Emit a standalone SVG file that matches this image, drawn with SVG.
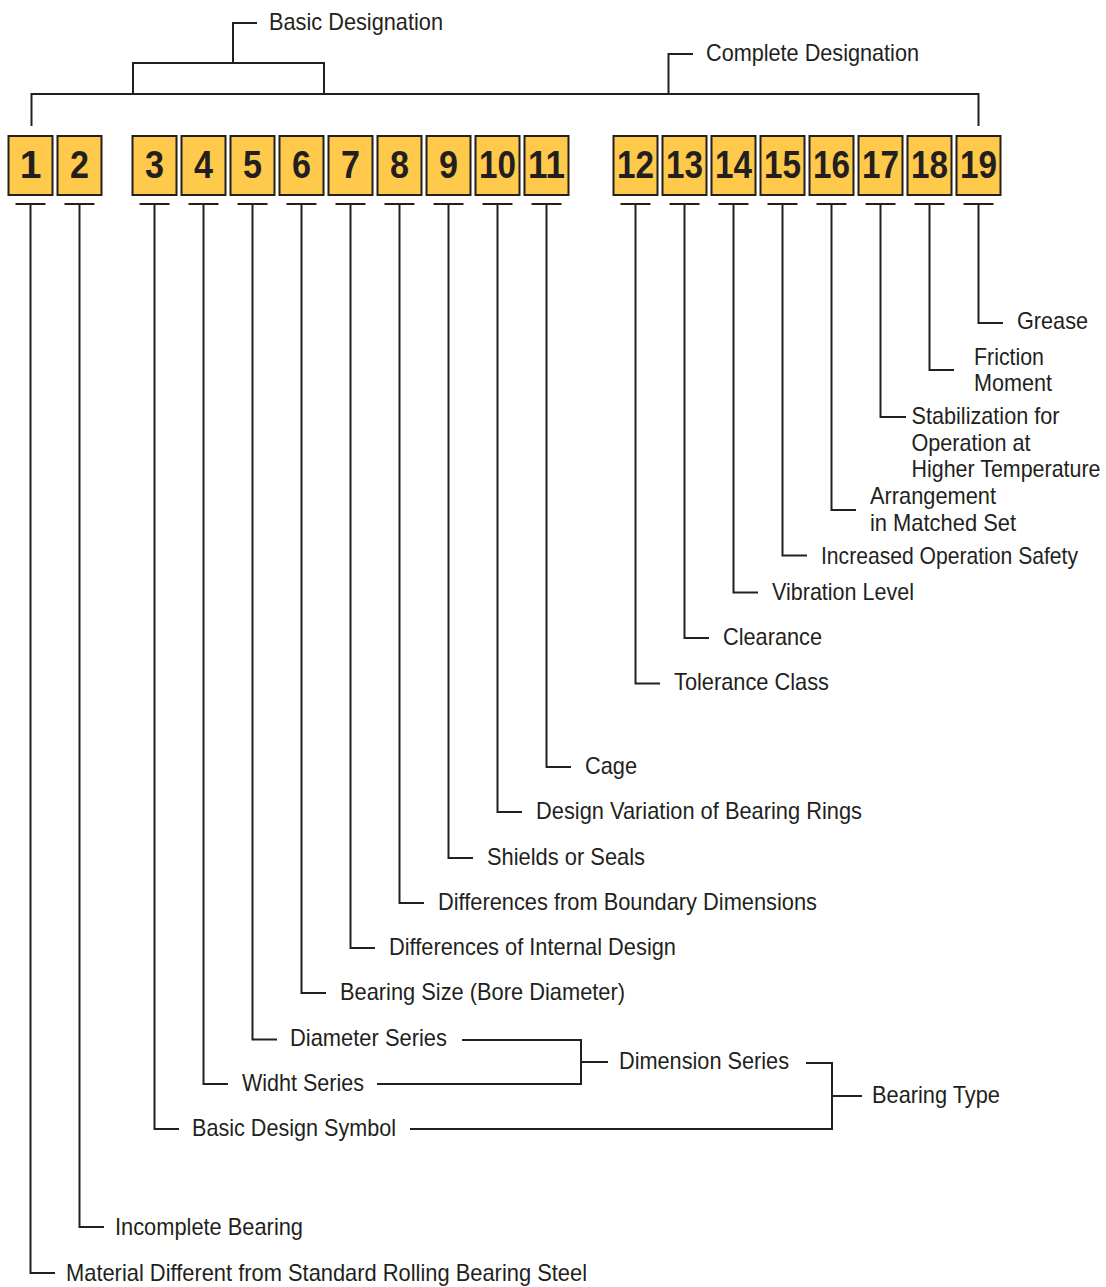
<svg xmlns="http://www.w3.org/2000/svg" width="1106" height="1287" viewBox="0 0 1106 1287">
<style>
.ln{fill:none;stroke:#231f20;stroke-width:2;stroke-linecap:butt;stroke-linejoin:miter}
.box{fill:#ffc94b;stroke:#231f20;stroke-width:2}
.num{font-family:"Liberation Sans",Arial,sans-serif;font-weight:bold;font-size:39px;fill:#231f20;text-anchor:middle}
.lb{font-family:"Liberation Sans",Arial,sans-serif;font-size:24px;fill:#231f20}
</style>
<rect width="1106" height="1287" fill="#ffffff"/>
<g id="connectors">
<path class="ln" d="M31.5 126 V94 H978.5 V126"/>
<path class="ln" d="M133 94 V63 H324 V94"/>
<path class="ln" d="M233 63 V23 H257"/>
<path class="ln" d="M668.5 94 V54 H693"/>
<path class="ln" d="M15.5 204 H45.5 M30.5 204 V1273 H55"/>
<path class="ln" d="M64.5 204 H94.5 M79.5 204 V1227 H104"/>
<path class="ln" d="M139.5 204 H169.5 M154.5 204 V1129 H179"/>
<path class="ln" d="M188.5 204 H218.5 M203.5 204 V1084 H228"/>
<path class="ln" d="M237.5 204 H267.5 M252.5 204 V1039.5 H277"/>
<path class="ln" d="M286.5 204 H316.5 M301.5 204 V993 H326"/>
<path class="ln" d="M335.5 204 H365.5 M350.5 204 V948 H375"/>
<path class="ln" d="M384.5 204 H414.5 M399.5 204 V903 H424"/>
<path class="ln" d="M433.5 204 H463.5 M448.5 204 V858 H473"/>
<path class="ln" d="M482.5 204 H512.5 M497.5 204 V812 H522"/>
<path class="ln" d="M531.5 204 H561.5 M546.5 204 V767 H571"/>
<path class="ln" d="M620.5 204 H650.5 M635.5 204 V683.5 H660"/>
<path class="ln" d="M669.5 204 H699.5 M684.5 204 V638 H709"/>
<path class="ln" d="M718.5 204 H748.5 M733.5 204 V592.5 H758"/>
<path class="ln" d="M767.5 204 H797.5 M782.5 204 V555.5 H807"/>
<path class="ln" d="M816.5 204 H846.5 M831.5 204 V510 H856"/>
<path class="ln" d="M865.5 204 H895.5 M880.5 204 V417 H906"/>
<path class="ln" d="M914.5 204 H944.5 M929.5 204 V370 H954"/>
<path class="ln" d="M963.5 204 H993.5 M978.5 204 V323 H1003"/>
<path class="ln" d="M462 1040 H581 V1084 H377 M581 1062 H608"/>
<path class="ln" d="M410 1129 H832 V1063 H806 M832 1096 H862"/>
</g>
<g id="boxes">
<g id="n1"><rect class="box" x="8.5" y="136" width="44" height="59"/><text class="num" x="30.5" y="178">1</text></g>
<g id="n2"><rect class="box" x="57.5" y="136" width="44" height="59"/><text class="num" x="79.5" y="178" textLength="19" lengthAdjust="spacingAndGlyphs">2</text></g>
<g id="n3"><rect class="box" x="132.5" y="136" width="44" height="59"/><text class="num" x="154.5" y="178" textLength="19" lengthAdjust="spacingAndGlyphs">3</text></g>
<g id="n4"><rect class="box" x="181.5" y="136" width="44" height="59"/><text class="num" x="203.5" y="178" textLength="19" lengthAdjust="spacingAndGlyphs">4</text></g>
<g id="n5"><rect class="box" x="230.5" y="136" width="44" height="59"/><text class="num" x="252.5" y="178" textLength="19" lengthAdjust="spacingAndGlyphs">5</text></g>
<g id="n6"><rect class="box" x="279.5" y="136" width="44" height="59"/><text class="num" x="301.5" y="178" textLength="19" lengthAdjust="spacingAndGlyphs">6</text></g>
<g id="n7"><rect class="box" x="328.5" y="136" width="44" height="59"/><text class="num" x="350.5" y="178" textLength="19" lengthAdjust="spacingAndGlyphs">7</text></g>
<g id="n8"><rect class="box" x="377.5" y="136" width="44" height="59"/><text class="num" x="399.5" y="178" textLength="19" lengthAdjust="spacingAndGlyphs">8</text></g>
<g id="n9"><rect class="box" x="426.5" y="136" width="44" height="59"/><text class="num" x="448.5" y="178" textLength="19" lengthAdjust="spacingAndGlyphs">9</text></g>
<g id="n10"><rect class="box" x="475.5" y="136" width="44" height="59"/><text class="num" x="497.5" y="178" textLength="37" lengthAdjust="spacingAndGlyphs">10</text></g>
<g id="n11"><rect class="box" x="524.5" y="136" width="44" height="59"/><text class="num" x="546.5" y="178" textLength="37" lengthAdjust="spacingAndGlyphs">11</text></g>
<g id="n12"><rect class="box" x="613.5" y="136" width="44" height="59"/><text class="num" x="635.5" y="178" textLength="37" lengthAdjust="spacingAndGlyphs">12</text></g>
<g id="n13"><rect class="box" x="662.5" y="136" width="44" height="59"/><text class="num" x="684.5" y="178" textLength="37" lengthAdjust="spacingAndGlyphs">13</text></g>
<g id="n14"><rect class="box" x="711.5" y="136" width="44" height="59"/><text class="num" x="733.5" y="178" textLength="37" lengthAdjust="spacingAndGlyphs">14</text></g>
<g id="n15"><rect class="box" x="760.5" y="136" width="44" height="59"/><text class="num" x="782.5" y="178" textLength="37" lengthAdjust="spacingAndGlyphs">15</text></g>
<g id="n16"><rect class="box" x="809.5" y="136" width="44" height="59"/><text class="num" x="831.5" y="178" textLength="37" lengthAdjust="spacingAndGlyphs">16</text></g>
<g id="n17"><rect class="box" x="858.5" y="136" width="44" height="59"/><text class="num" x="880.5" y="178" textLength="37" lengthAdjust="spacingAndGlyphs">17</text></g>
<g id="n18"><rect class="box" x="907.5" y="136" width="44" height="59"/><text class="num" x="929.5" y="178" textLength="37" lengthAdjust="spacingAndGlyphs">18</text></g>
<g id="n19"><rect class="box" x="956.5" y="136" width="44" height="59"/><text class="num" x="978.5" y="178" textLength="37" lengthAdjust="spacingAndGlyphs">19</text></g>
</g>
<g id="labels">
<g id="l-basic"><text class="lb" x="269" y="30" textLength="174" lengthAdjust="spacingAndGlyphs">Basic Designation</text></g>
<g id="l-complete"><text class="lb" x="706" y="61" textLength="213" lengthAdjust="spacingAndGlyphs">Complete Designation</text></g>
<g id="l19"><text class="lb" x="1017" y="328.5" textLength="71" lengthAdjust="spacingAndGlyphs">Grease</text></g>
<g id="l18"><text class="lb" x="974" y="364.5" textLength="70" lengthAdjust="spacingAndGlyphs">Friction</text><text class="lb" x="974" y="391" textLength="78" lengthAdjust="spacingAndGlyphs">Moment</text></g>
<g id="l17"><text class="lb" x="911.5" y="424" textLength="148" lengthAdjust="spacingAndGlyphs">Stabilization for</text><text class="lb" x="911.5" y="450.5" textLength="119" lengthAdjust="spacingAndGlyphs">Operation at</text><text class="lb" x="911.5" y="477" textLength="189" lengthAdjust="spacingAndGlyphs">Higher Temperature</text></g>
<g id="l16"><text class="lb" x="870" y="504" textLength="126" lengthAdjust="spacingAndGlyphs">Arrangement</text><text class="lb" x="870" y="531" textLength="146" lengthAdjust="spacingAndGlyphs">in Matched Set</text></g>
<g id="l15"><text class="lb" x="821" y="563.5" textLength="257" lengthAdjust="spacingAndGlyphs">Increased Operation Safety</text></g>
<g id="l14"><text class="lb" x="772" y="599.5" textLength="142" lengthAdjust="spacingAndGlyphs">Vibration Level</text></g>
<g id="l13"><text class="lb" x="723" y="644.5" textLength="99" lengthAdjust="spacingAndGlyphs">Clearance</text></g>
<g id="l12"><text class="lb" x="674" y="690" textLength="155" lengthAdjust="spacingAndGlyphs">Tolerance Class</text></g>
<g id="l11"><text class="lb" x="585" y="773.5" textLength="52" lengthAdjust="spacingAndGlyphs">Cage</text></g>
<g id="l10"><text class="lb" x="536" y="819" textLength="326" lengthAdjust="spacingAndGlyphs">Design Variation of Bearing Rings</text></g>
<g id="l9"><text class="lb" x="487" y="864.5" textLength="158" lengthAdjust="spacingAndGlyphs">Shields or Seals</text></g>
<g id="l8"><text class="lb" x="438" y="909.5" textLength="379" lengthAdjust="spacingAndGlyphs">Differences from Boundary Dimensions</text></g>
<g id="l7"><text class="lb" x="389" y="955" textLength="287" lengthAdjust="spacingAndGlyphs">Differences of Internal Design</text></g>
<g id="l6"><text class="lb" x="340" y="1000" textLength="285" lengthAdjust="spacingAndGlyphs">Bearing Size (Bore Diameter)</text></g>
<g id="l5"><text class="lb" x="290" y="1046" textLength="157" lengthAdjust="spacingAndGlyphs">Diameter Series</text></g>
<g id="l4"><text class="lb" x="242" y="1091" textLength="122" lengthAdjust="spacingAndGlyphs">Widht Series</text></g>
<g id="l-dim"><text class="lb" x="619" y="1069" textLength="170" lengthAdjust="spacingAndGlyphs">Dimension Series</text></g>
<g id="l-type"><text class="lb" x="872" y="1103" textLength="128" lengthAdjust="spacingAndGlyphs">Bearing Type</text></g>
<g id="l3"><text class="lb" x="192" y="1136" textLength="204" lengthAdjust="spacingAndGlyphs">Basic Design Symbol</text></g>
<g id="l2"><text class="lb" x="115" y="1234.5" textLength="188" lengthAdjust="spacingAndGlyphs">Incomplete Bearing</text></g>
<g id="l1"><text class="lb" x="66" y="1280.5" textLength="521" lengthAdjust="spacingAndGlyphs">Material Different from Standard Rolling Bearing Steel</text></g>
</g>
</svg>
